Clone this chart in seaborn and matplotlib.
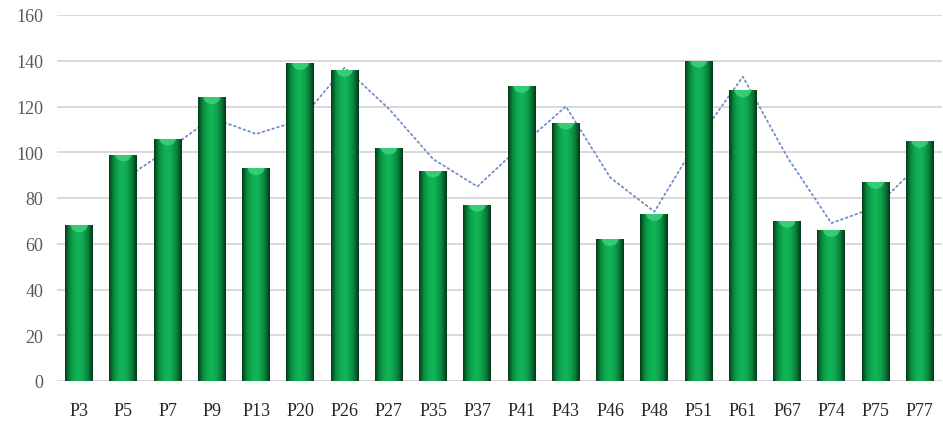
import numpy as np
import pandas as pd
import matplotlib
matplotlib.use("Agg")
import matplotlib.pyplot as plt
import seaborn as sns
from matplotlib.colors import LinearSegmentedColormap
from matplotlib.patches import Ellipse

# Sample labels and measured values
samples = ["P3", "P5", "P7", "P9", "P13", "P20", "P26", "P27", "P35", "P37",
           "P41", "P43", "P46", "P48", "P51", "P61", "P67", "P74", "P75", "P77"]
values = [68, 99, 106, 124, 93, 139, 136, 102, 92, 77,
          129, 113, 62, 73, 140, 127, 70, 66, 87, 105]
# Two-period moving average trend (no value for the first sample)
trend = [np.nan, 88, 101, 115, 108, 114, 137, 119, 97, 85,
         103, 120, 89, 74, 106, 133, 98, 69, 76, 95]
y_ticks = [0, 20, 40, 60, 80, 100, 120, 140, 160]

sns.set_theme(style="white")
plt.rcParams["font.family"] = ["Liberation Serif", "DejaVu Serif"]

W, H = 943, 431
fig = plt.figure(figsize=(W / 100, H / 100), dpi=100)
ax = fig.add_axes([57 / W, 49 / H, (942 - 57) / W, (382 - 16) / H])

df = pd.DataFrame({"sample": samples, "value": values})
sns.barplot(data=df, x="sample", y="value", color="#0aa64a", width=0.63,
            ax=ax, zorder=2, linewidth=0)

# Cylinder-style shading for each bar
cyl = LinearSegmentedColormap.from_list(
    "cyl", ["#053817", "#0a8a3e", "#0fab50", "#13b659", "#0ea34c", "#087d38", "#04331a"])
grad = np.linspace(0, 1, 256).reshape(1, -1)
for p in list(ax.patches):
    x0, y0 = p.get_x(), p.get_y()
    w, h = p.get_width(), p.get_height()
    im = ax.imshow(grad, cmap=cyl, extent=[x0, x0 + w, y0, y0 + h],
                   aspect="auto", zorder=2.1, interpolation="bicubic")
    im.set_clip_path(p)
    cap = Ellipse((x0 + w / 2, y0 + h + 0.5), width=w * 0.62, height=7,
                  facecolor="#3dd27d", edgecolor="none", alpha=0.85, zorder=2.2)
    ax.add_patch(cap)
    cap.set_clip_path(p)

# Dotted trend line, drawn behind the bars
ax.plot(np.arange(len(samples)), trend, linestyle=(0, (1, 1.8)),
        color="#6f8fc8", lw=1.3, zorder=1.5, dash_capstyle="round")

ax.set_xlim(-0.5, len(samples) - 0.5)
ax.set_ylim(0, 160)
ax.set_yticks(y_ticks)
ax.set_yticklabels([str(t) for t in y_ticks])
ax.yaxis.grid(True, color="#d9d9d9", lw=1.4, zorder=0)
ax.xaxis.grid(False)
for s in ax.spines.values():
    s.set_visible(False)

ax.set_xlabel("")
ax.set_ylabel("")
ax.tick_params(axis="y", length=0, pad=10, labelsize=13, labelcolor="#595959")
ax.tick_params(axis="x", length=0, pad=15, labelsize=13, labelcolor="#262626")

fig.savefig("out.png", dpi=100)
